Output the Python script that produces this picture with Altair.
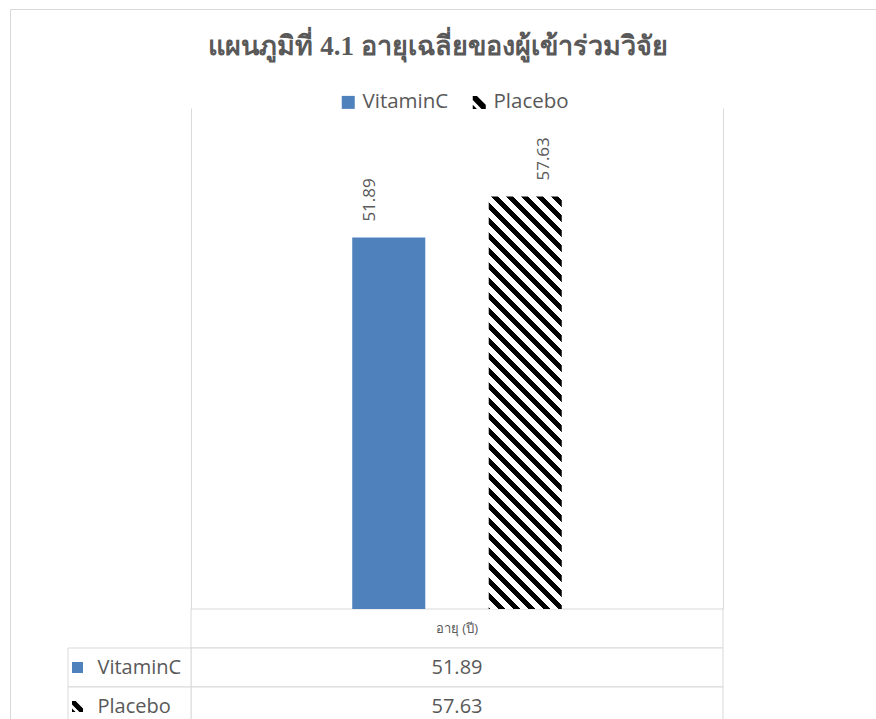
import altair as alt
import pandas as pd

# ---------------- data ----------------
groups = ["VitaminC", "Placebo"]
ages = [51.89, 57.63]
category = "อายุ (ปี)"
title_text = "แผนภูมิที่ 4.1 อายุเฉลี่ยของผู้เข้าร่วมวิจัย"

# ---------------- style ----------------
BLUE = "#4F81BD"
GREY_TEXT = "#595959"
LINE = "#D9D9D9"
FONT = "Open Sans"
TITLE_FONT = "Liberation Serif"

W, H = 866, 710            # chart-area frame (view)
PLOT_X0, PLOT_X1 = 181, 713
PLOT_Y0, PLOT_Y1 = 99, 600
Y_MAX = 70
ROW_H = 39
HDR_X0 = 58
PAD_IN, PAD_OUT = 0.465, 0.5
BAR_STEP = 136.5

rows = [category] + groups

bars_df = pd.DataFrame({"group": groups, "age": ages})
table_df = pd.DataFrame({
    "row": rows,
    "col": [category] * len(rows),
    "text": [category] + [f"{v:.2f}" for v in ages],
    "kind": ["header"] + ["value"] * len(groups),
})
series_df = pd.DataFrame({"row": groups, "hcol": ["series"] * len(groups), "group": groups})

# bar band range, centred in the plot
band_total = BAR_STEP * (len(groups) - PAD_IN + 2 * PAD_OUT)
mid = (PLOT_X0 + PLOT_X1) / 2
BAR_RANGE = [mid - band_total / 2, mid + band_total / 2]

# ---------------- hatch pattern (diagonal stripes) as a gradient ----------------
bw = BAR_STEP * (1 - PAD_IN)
bh = ages[1] / Y_MAX * (PLOT_Y1 - PLOT_Y0)
k = (bw + bh) / (bw ** 2 + bh ** 2)
span = bw + bh
period, black = 15.0, 0.45
stops = [{"offset": 0, "color": "white"}]
s = 4.0
while s < span:
    a = min(s / span, 1.0)
    b = min((s + black * period) / span, 1.0)
    stops += [{"offset": a, "color": "white"}, {"offset": a, "color": "black"},
              {"offset": b, "color": "black"}, {"offset": b, "color": "white"}]
    s += period
stops.append({"offset": 1, "color": "white"})
hatch = {"gradient": "linear", "x1": 1, "y1": 0, "x2": 1 - bw * k, "y2": bh * k, "stops": stops}

PLACEBO_ICON = ("M-1,-1 L-0.35,-1 L1,0.35 L1,1 L0.35,1 L-1,-0.35 Z "
                "M-1,0.35 L-0.35,1 L-1,1 Z")

# ---------------- scales ----------------
x_bar_scale = alt.Scale(domain=groups, range=BAR_RANGE, paddingInner=PAD_IN, paddingOuter=PAD_OUT)
y_bar_scale = alt.Scale(domain=[0, Y_MAX], range=[PLOT_Y1, PLOT_Y0], nice=False, zero=True)
x_col_scale = alt.Scale(domain=[category], range=[PLOT_X0, PLOT_X1], paddingInner=0, paddingOuter=0)
x_hdr_scale = alt.Scale(domain=["series"], range=[HDR_X0, PLOT_X0], paddingInner=0, paddingOuter=0)
y_row_scale = alt.Scale(domain=rows, range=[PLOT_Y1, PLOT_Y1 + ROW_H * len(rows)], paddingInner=0, paddingOuter=0)


def edge_axis(orient, offset):
    return alt.Axis(orient=orient, offset=offset, domain=True, domainColor=LINE, domainWidth=1,
                    labels=False, ticks=False, grid=False, title=None)


bars = alt.Chart(bars_df).mark_bar(strokeWidth=0).encode(
    x=alt.X("group:N", sort=groups, scale=x_bar_scale, axis=None),
    y=alt.Y("age:Q", scale=y_bar_scale, axis=edge_axis("left", -PLOT_X0)),
    fill=alt.condition(alt.datum.group == "VitaminC", alt.value(BLUE), alt.value(hatch)),
)

labels = alt.Chart(bars_df).mark_text(angle=270, align="left", baseline="middle", dx=16,
                                      fontSize=17, font=FONT, color=GREY_TEXT).encode(
    x=alt.X("group:N", sort=groups, scale=x_bar_scale, axis=None),
    y=alt.Y("age:Q", scale=y_bar_scale, axis=edge_axis("right", -(W - PLOT_X1))),
    text=alt.Text("age:Q", format=".2f"),
)

cells = alt.Chart(table_df).mark_rect(fill="white", stroke=LINE, strokeWidth=1).encode(
    x=alt.X("col:N", scale=x_col_scale, axis=None),
    y=alt.Y("row:N", sort=rows, scale=y_row_scale, axis=None),
)

header_text = alt.Chart(table_df).transform_filter(alt.datum.kind == "header").mark_text(
    fontSize=13, font=FONT, color=GREY_TEXT).encode(
    x=alt.X("col:N", scale=x_col_scale, axis=None),
    y=alt.Y("row:N", sort=rows, scale=y_row_scale, axis=None),
    text="text:N",
)

value_text = alt.Chart(table_df).transform_filter(alt.datum.kind == "value").mark_text(
    fontSize=20, font=FONT, color=GREY_TEXT).encode(
    x=alt.X("col:N", scale=x_col_scale, axis=None),
    y=alt.Y("row:N", sort=rows, scale=y_row_scale, axis=None),
    text="text:N",
)

series_cells = alt.Chart(series_df).mark_rect(fill="white", stroke=LINE, strokeWidth=1).encode(
    x=alt.X("hcol:N", scale=x_hdr_scale, axis=None),
    y=alt.Y("row:N", sort=rows, scale=y_row_scale, axis=None),
)

series_text = alt.Chart(series_df).mark_text(align="left", dx=-32, fontSize=20, font=FONT,
                                             color=GREY_TEXT).encode(
    x=alt.X("hcol:N", scale=x_hdr_scale, axis=None),
    y=alt.Y("row:N", sort=rows, scale=y_row_scale, axis=None),
    text="group:N",
)

legend = alt.Legend(orient="none", legendX=328, legendY=83, direction="horizontal", title=None,
                    labelFont=FONT, labelFontSize=20.5, labelColor=GREY_TEXT, symbolSize=169,
                    symbolStrokeWidth=0, labelOffset=4, columnPadding=20, padding=0)

series_icons = alt.Chart(series_df).mark_point(filled=True, size=121, opacity=1, xOffset=-52,
                                               strokeWidth=0).encode(
    x=alt.X("hcol:N", scale=x_hdr_scale, axis=None),
    y=alt.Y("row:N", sort=rows, scale=y_row_scale, axis=None),
    color=alt.Color("group:N", scale=alt.Scale(domain=groups, range=[BLUE, "black"]), legend=legend),
    shape=alt.Shape("group:N", scale=alt.Scale(domain=groups, range=["square", PLACEBO_ICON]), legend=legend),
)

chart = alt.layer(
    cells, series_cells, bars, labels, header_text, value_text, series_text, series_icons
).resolve_scale(
    x="independent", y="independent"
).resolve_axis(
    x="independent", y="independent"
).properties(
    width=W, height=H,
    autosize=alt.AutoSizeParams(type="none"),
    padding={"left": 10, "top": 9, "right": 0, "bottom": 0},
    title=alt.TitleParams(title_text, font=TITLE_FONT, fontSize=27, fontWeight="bold", color=GREY_TEXT,
                          anchor="middle", frame="group", offset=-52, dx=-5),
).configure_view(stroke=LINE, strokeWidth=1)

chart.save("out.html", embed_options={"renderer": "svg", "actions": False})
